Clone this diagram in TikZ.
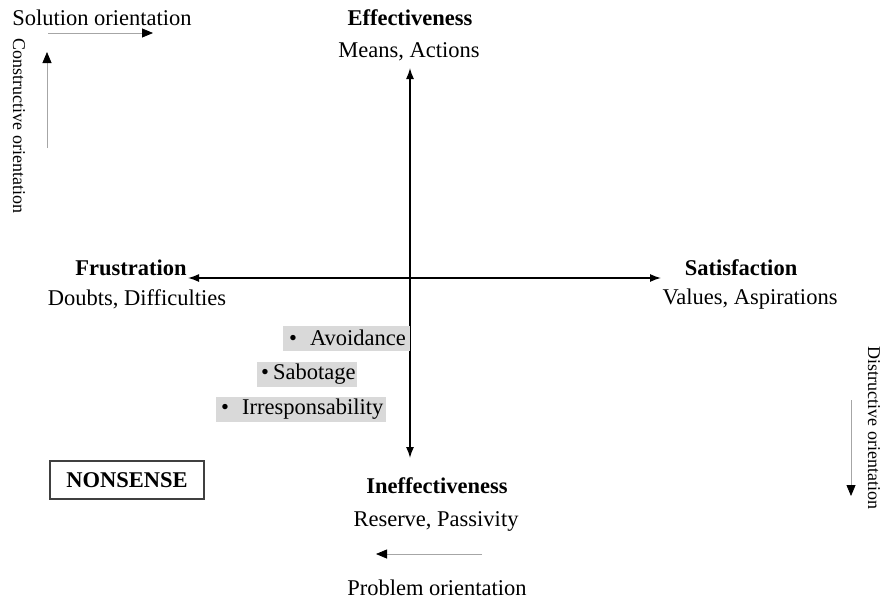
\documentclass[tikz,border=0pt]{standalone}
\usepackage{fontspec}
\setmainfont{Liberation Serif}
\usetikzlibrary{arrows.meta}
\begin{document}
\begin{tikzpicture}[x=1pt,y=-1pt,
  every node/.style={font=\fontsize{22.5}{27}\selectfont, inner sep=0pt},
  title/.style={font=\fontsize{22.5}{27}\selectfont\bfseries},
  side/.style={font=\fontsize{18}{22}\selectfont, rotate=-90, anchor=base},
  axis/.style={line width=1.4pt, {Latex[length=11pt,width=8pt]}-{Latex[length=11pt,width=8pt]}},
  hint/.style={draw=black!35, line width=0.8pt, -{Triangle[length=11pt,width=9pt,fill=black,color=black]}},
  hl/.style={fill=black!15, anchor=west, minimum height=25pt, inner ysep=0pt},
  framebox/.style={draw=black!75, line width=1.3pt, minimum width=154pt, minimum height=38pt}]
\useasboundingbox (0,0) rectangle (885,600);

% axes
\coordinate (top) at (410,68);
\coordinate (bot) at (410,458);
\coordinate (lft) at (188,278);
\coordinate (rgt) at (661,278);
\draw[axis] (top) -- (bot);
\draw[axis] (lft) -- (rgt);

% pole labels
\node[title] (eff) at (410,18) {Effectiveness};
\node (effs) at (409,52) {Means, Actions};
\node[title] (fru) at (131,268) {Frustration};
\node (frus) at (137,299) {Doubts, Difficulties};
\node[title] (sat) at (741,268) {Satisfaction};
\node (sats) at (750,299) {Values, Aspirations};
\node[title] (ine) at (437,486) {Ineffectiveness};
\node (ines) at (436,521) {Reserve, Passivity};

% orientation hints
\node (sol) at (102,18) {Solution orientation};
\coordinate (solA) at (48,33);
\coordinate (solB) at (153,33);
\draw[hint] (solA) -- (solB);

\node[side] (con) at (13,126) {Constructive orientation};
\coordinate (conA) at (47,148);
\coordinate (conB) at (47,52);
\draw[hint] (conA) -- (conB);

\node[side] (dis) at (868,428) {Distructive orientation};
\coordinate (disA) at (851,400);
\coordinate (disB) at (851,496);
\draw[hint] (disA) -- (disB);

\node (pro) at (437,588) {Problem orientation};
\coordinate (proA) at (482,554);
\coordinate (proB) at (376,554);
\draw[hint] (proA) -- (proB);

% highlighted behaviours
\node[hl, inner xsep=6pt] (avo) at (283,338)
  {\makebox[115pt][l]{\textbullet\hspace{13pt}Avoidance}};
\node[hl, inner xsep=4pt] (sab) at (257,374.5)
  {\makebox[92pt][l]{\textbullet\hspace{4pt}Sabotage}};
\node[hl, inner xsep=5pt] (irr) at (216,409.5)
  {\makebox[160pt][l]{\textbullet\hspace{13pt}Irresponsability}};

% framed label
\node[framebox, font=\fontsize{22.5}{27}\selectfont\bfseries] (non) at (127,480) {NONSENSE};
\end{tikzpicture}
\end{document}
